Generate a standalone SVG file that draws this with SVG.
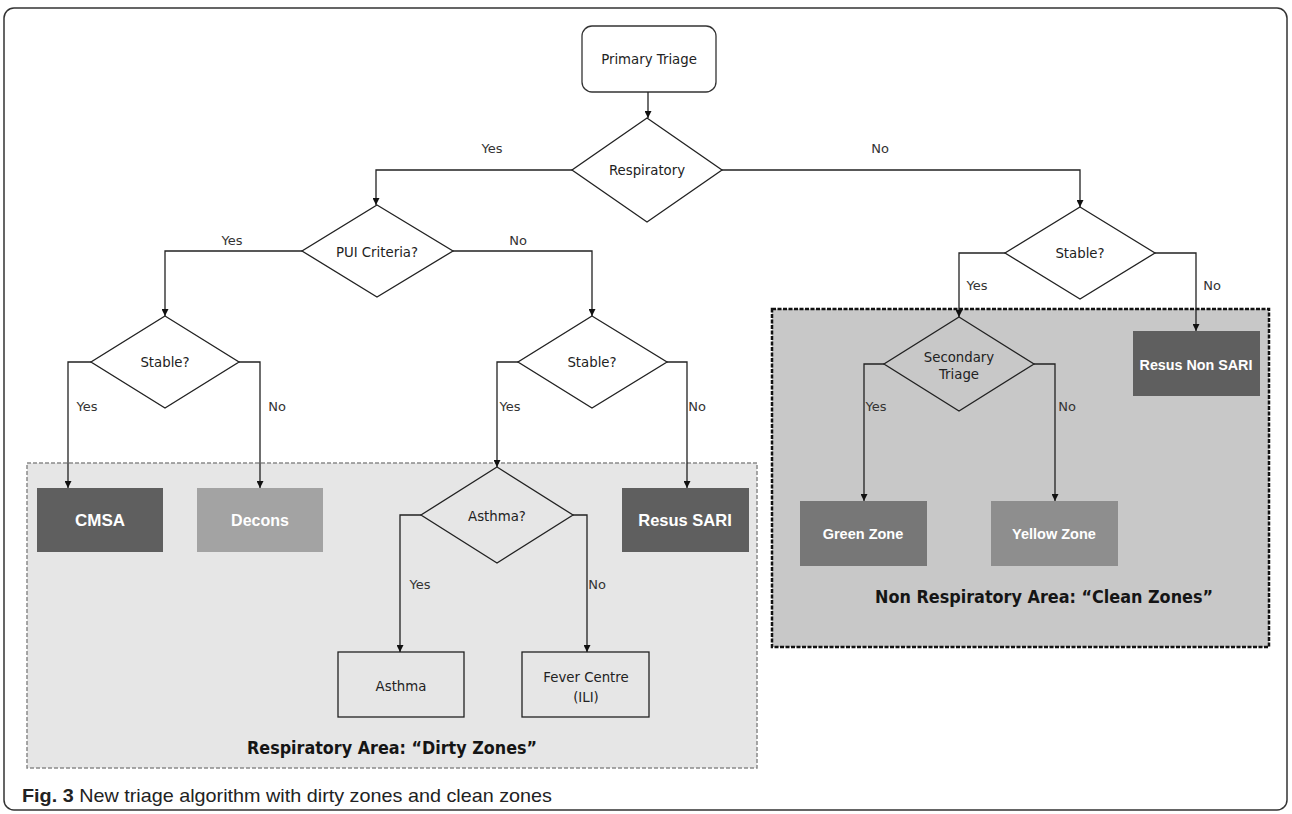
<svg xmlns="http://www.w3.org/2000/svg" width="1292" height="814" viewBox="0 0 1292 814">
<defs>
<marker id="ah" viewBox="0 0 10 10" refX="10" refY="5" markerWidth="7" markerHeight="7" markerUnits="userSpaceOnUse" orient="auto">
<path d="M0,0 L10,5 L0,10 z" fill="#111"/>
</marker>
<style>
.frame{fill:#fff;stroke:#333;stroke-width:1.5}
.dia{fill:none;stroke:#222;stroke-width:1.3}
.box{stroke:none}
.obox{fill:none;stroke:#222;stroke-width:1.3}
.t{font-family:"DejaVu Sans",Verdana,sans-serif;font-size:13.3px;fill:#222;text-anchor:middle;dominant-baseline:central}
.lbl{font-family:"DejaVu Sans",Verdana,sans-serif;font-size:13px;fill:#333;text-anchor:middle;dominant-baseline:central}
.w{font-family:"Liberation Sans",Arial,sans-serif;font-weight:bold;fill:#fff;text-anchor:middle;dominant-baseline:central}
.zl{font-family:"DejaVu Sans",Verdana,sans-serif;font-size:18px;font-weight:bold;fill:#151515;text-anchor:middle;dominant-baseline:central}
.c{fill:none;stroke:#222;stroke-width:1.3;marker-end:url(#ah)}
</style>
</defs>
<rect class="frame" x="4" y="8" width="1283" height="802" rx="10"/>

<g id="dirty-zone">
<rect x="27" y="463" width="730" height="305" fill="#e6e6e6" stroke="#8a8a8a" stroke-width="1.5" stroke-dasharray="4 2"/>
<text class="zl" x="392" y="747" textLength="290" lengthAdjust="spacingAndGlyphs">Respiratory Area: “Dirty Zones”</text>
</g>
<g id="clean-zone">
<rect x="772" y="309" width="497" height="338" fill="#c8c8c8" stroke="#111" stroke-width="2.5" stroke-dasharray="4 1.5"/>
<text class="zl" x="1044" y="596" textLength="338" lengthAdjust="spacingAndGlyphs">Non Respiratory Area: “Clean Zones”</text>
</g>

<g id="primary-triage">
<rect x="582" y="26" width="134" height="66" rx="10" fill="#fff" stroke="#333" stroke-width="1.3"/>
<text class="t" x="649" y="59">Primary Triage</text>
</g>
<g id="respiratory">
<polygon class="dia" points="647,118 722,170 647,222 572,170"/>
<text class="t" x="647" y="170">Respiratory</text>
</g>
<g id="pui">
<polygon class="dia" points="377,205 453,251 377,297 302,251"/>
<text class="t" x="377" y="252">PUI Criteria?</text>
</g>
<g id="stable-left">
<polygon class="dia" points="165,316 239,362 165,408 91,362"/>
<text class="t" x="165" y="362">Stable?</text>
</g>
<g id="stable-mid">
<polygon class="dia" points="592,316 667,362 592,408 518,362"/>
<text class="t" x="592" y="362">Stable?</text>
</g>
<g id="asthma-q">
<polygon class="dia" points="497,467 573,515 497,563 421,515"/>
<text class="t" x="497" y="516">Asthma?</text>
</g>
<g id="stable-right">
<polygon class="dia" points="1080,207 1155,253 1080,299 1005,253"/>
<text class="t" x="1080" y="253">Stable?</text>
</g>
<g id="secondary-triage">
<polygon class="dia" points="959,317 1034,364 959,411 884,364"/>
<text class="t" x="959" y="357">Secondary</text>
<text class="t" x="959" y="374">Triage</text>
</g>

<g id="cmsa">
<rect class="box" x="37" y="488" width="126" height="64" fill="#5f5f5f"/>
<text class="w" x="100" y="520" font-size="17">CMSA</text>
</g>
<g id="decons">
<rect class="box" x="197" y="488" width="126" height="64" fill="#a3a3a3"/>
<text class="w" x="260" y="520" font-size="16">Decons</text>
</g>
<g id="resus-sari">
<rect class="box" x="622" y="488" width="127" height="64" fill="#5f5f5f"/>
<text class="w" x="685" y="520" font-size="16.5">Resus SARI</text>
</g>
<g id="resus-non-sari">
<rect class="box" x="1133" y="331" width="127" height="65" fill="#5f5f5f"/>
<text class="w" x="1196" y="365" font-size="14.3">Resus Non SARI</text>
</g>
<g id="green-zone">
<rect class="box" x="800" y="501" width="127" height="65" fill="#777777"/>
<text class="w" x="863" y="534" font-size="14.5">Green Zone</text>
</g>
<g id="yellow-zone">
<rect class="box" x="991" y="501" width="127" height="65" fill="#8e8e8e"/>
<text class="w" x="1054" y="534" font-size="14.5">Yellow Zone</text>
</g>
<g id="asthma">
<rect class="obox" x="338" y="652" width="126" height="65"/>
<text class="t" x="401" y="686">Asthma</text>
</g>
<g id="fever-centre">
<rect class="obox" x="522" y="652" width="127" height="65"/>
<text class="t" x="586" y="677">Fever Centre</text>
<text class="t" x="586" y="697">(ILI)</text>
</g>

<g id="connectors">
<path class="c" d="M648,92 V118"/>
<path class="c" d="M572,170 H376 V205"/>
<path class="c" d="M722,170 H1080 V207"/>
<path class="c" d="M302,251 H165 V316"/>
<path class="c" d="M453,251 H592 V316"/>
<path class="c" d="M91,362 H68 V488"/>
<path class="c" d="M239,362 H260 V488"/>
<path class="c" d="M518,362 H497 V467"/>
<path class="c" d="M667,362 H687 V488"/>
<path class="c" d="M421,515 H400 V652"/>
<path class="c" d="M573,515 H587 V652"/>
<path class="c" d="M1005,253 H959 V317"/>
<path class="c" d="M1155,253 H1196 V331"/>
<path class="c" d="M884,364 H864 V501"/>
<path class="c" d="M1034,364 H1055 V501"/>
<text class="lbl" x="492" y="148">Yes</text>
<text class="lbl" x="880" y="148">No</text>
<text class="lbl" x="232" y="240">Yes</text>
<text class="lbl" x="518" y="240">No</text>
<text class="lbl" x="87" y="406">Yes</text>
<text class="lbl" x="277" y="406">No</text>
<text class="lbl" x="510" y="406">Yes</text>
<text class="lbl" x="697" y="406">No</text>
<text class="lbl" x="420" y="584">Yes</text>
<text class="lbl" x="597" y="584">No</text>
<text class="lbl" x="977" y="285">Yes</text>
<text class="lbl" x="1212" y="285">No</text>
<text class="lbl" x="876" y="406">Yes</text>
<text class="lbl" x="1067" y="406">No</text>
</g>

<text x="22" y="802" font-family="Liberation Sans,Arial,sans-serif" font-size="19" fill="#222" textLength="530" lengthAdjust="spacingAndGlyphs"><tspan font-weight="bold">Fig. 3</tspan> New triage algorithm with dirty zones and clean zones</text>
</svg>
